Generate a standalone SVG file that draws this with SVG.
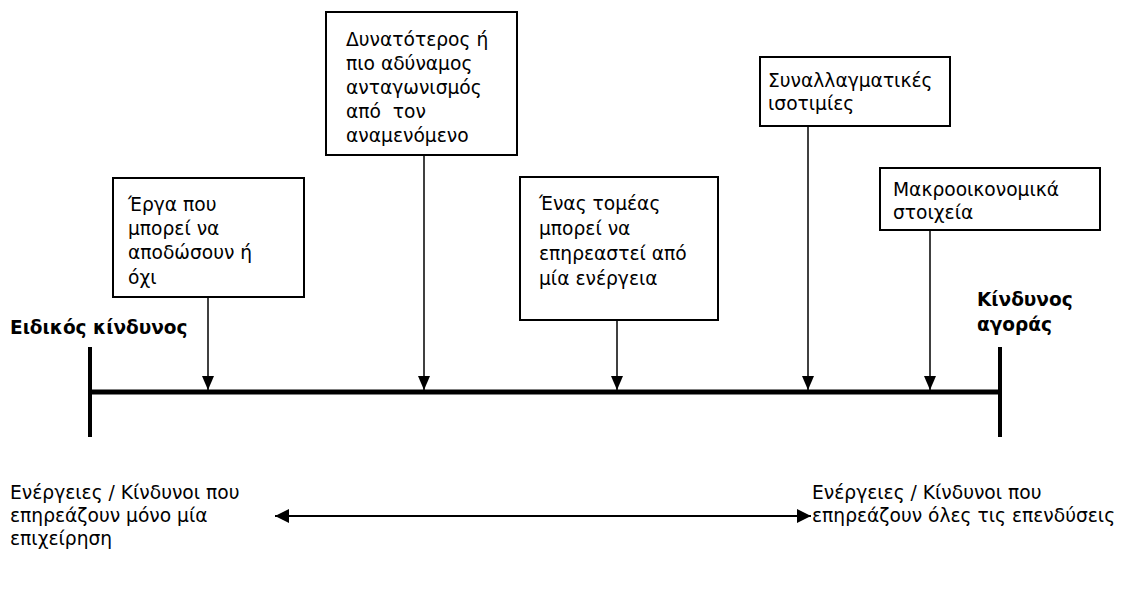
<svg xmlns="http://www.w3.org/2000/svg" width="1131" height="608" viewBox="0 0 1131 608">
<defs>
<style>
.box{fill:#fff;stroke:#000;stroke-width:2}
.t{font-family:"DejaVu Sans","Noto Sans",sans-serif;font-size:18.67px;fill:#000}
.b{font-family:"DejaVu Sans","Noto Sans",sans-serif;font-size:18.5px;font-weight:bold;fill:#000}
.ar{stroke:#000;stroke-width:1.5;fill:none}
</style>
<marker id="ah" viewBox="0 0 14 12" refX="14" refY="6" markerWidth="14" markerHeight="12" markerUnits="userSpaceOnUse" orient="auto">
<path d="M0,0 L14,6 L0,12 z" fill="#000"/>
</marker>
<marker id="ah2" viewBox="0 0 14 14" refX="14" refY="7" markerWidth="14" markerHeight="14" markerUnits="userSpaceOnUse" orient="auto-start-reverse">
<path d="M0,0 L14,7 L0,14 z" fill="#000"/>
</marker>
</defs>
<rect width="1131" height="608" fill="#fff"/>

<g id="axis">
<line x1="90" y1="392" x2="1000" y2="392" stroke="#000" stroke-width="5"/>
<line x1="90" y1="347" x2="90" y2="437" stroke="#000" stroke-width="4"/>
<line x1="1000" y1="347" x2="1000" y2="437" stroke="#000" stroke-width="4"/>
</g>

<g id="label-specific">
<text class="b" x="10" y="334">Ειδικός κίνδυνος</text>
</g>
<g id="label-market">
<text class="b" x="977" y="306">Κίνδυνος</text>
<text class="b" x="977" y="331">αγοράς</text>
</g>

<g id="node1">
<rect class="box" x="113" y="178" width="191" height="119"/>
<text class="t"><tspan x="128" y="211">Έργα που</tspan><tspan x="128" y="235">μπορεί να</tspan><tspan x="128" y="259">αποδώσουν ή</tspan><tspan x="128" y="284">όχι</tspan></text>
</g>
<g id="node2">
<rect class="box" x="326" y="12" width="191" height="143"/>
<text class="t"><tspan x="346" y="46">Δυνατότερος ή</tspan><tspan x="346" y="70">πιο αδύναμος</tspan><tspan x="346" y="94">ανταγωνισμός</tspan><tspan x="346" y="118">από&#160; τον</tspan><tspan x="346" y="142">αναμενόμενο</tspan></text>
</g>
<g id="node3">
<rect class="box" x="520" y="177" width="198" height="143"/>
<text class="t"><tspan x="539" y="210">Ένας τομέας</tspan><tspan x="539" y="235">μπορεί να</tspan><tspan x="539" y="260">επηρεαστεί από</tspan><tspan x="539" y="285">μία ενέργεια</tspan></text>
</g>
<g id="node4">
<rect class="box" x="760" y="57" width="190" height="69"/>
<text class="t"><tspan x="768" y="87">Συναλλαγματικές</tspan><tspan x="768" y="110">ισοτιμίες</tspan></text>
</g>
<g id="node5">
<rect class="box" x="880" y="168" width="220" height="62"/>
<text class="t"><tspan x="893" y="196">Μακροοικονομικά</tspan><tspan x="893" y="219">στοιχεία</tspan></text>
</g>

<g id="note-left">
<text class="t"><tspan x="10" y="499">Ενέργειες / Κίνδυνοι που</tspan><tspan x="10" y="522">επηρεάζουν μόνο μία</tspan><tspan x="10" y="545">επιχείρηση</tspan></text>
</g>
<g id="note-right">
<text class="t"><tspan x="812" y="499">Ενέργειες / Κίνδυνοι που</tspan><tspan x="812" y="522">επηρεάζουν όλες τις επενδύσεις</tspan></text>
</g>

<g id="connectors">
<line class="ar" x1="208" y1="297" x2="208" y2="390" marker-end="url(#ah)"/>
<line class="ar" x1="424" y1="155" x2="424" y2="390" marker-end="url(#ah)"/>
<line class="ar" x1="617" y1="320" x2="617" y2="390" marker-end="url(#ah)"/>
<line class="ar" x1="808" y1="126" x2="808" y2="390" marker-end="url(#ah)"/>
<line class="ar" x1="930" y1="230" x2="930" y2="390" marker-end="url(#ah)"/>
<line x1="275" y1="516" x2="811" y2="516" stroke="#000" stroke-width="2" marker-start="url(#ah2)" marker-end="url(#ah2)"/>
</g>
</svg>
